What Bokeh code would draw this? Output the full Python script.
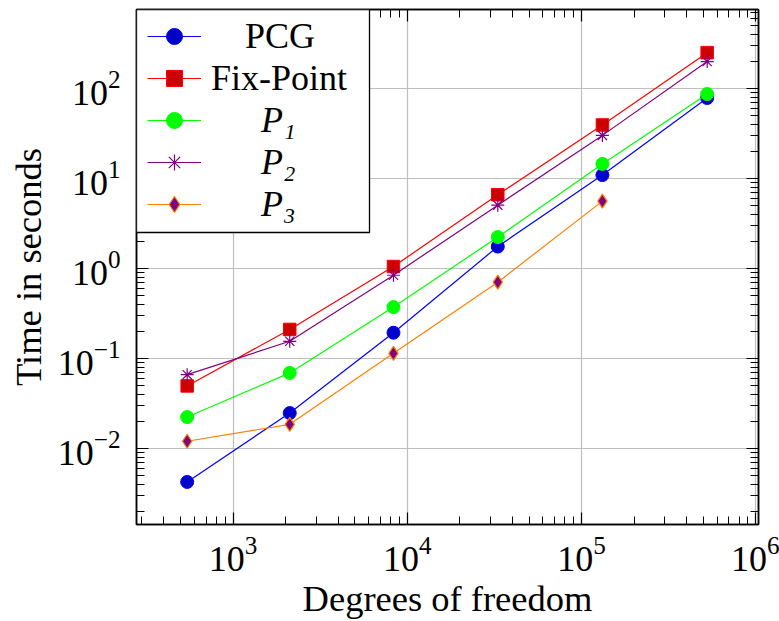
from bokeh.plotting import figure
from bokeh.models import (Range1d, LogAxis, Legend, LegendItem, BoxAnnotation)
from bokeh.embed import file_html
from bokeh.resources import INLINE

# Degrees of freedom of the successive meshes
dofs = [545, 2113, 8321, 33025, 131585, 525313]

# Solver times in seconds
pcg = [0.00424, 0.0247, 0.193, 1.75, 10.9, 78.3]
fix_point = [0.0495, 0.210, 1.05, 6.59, 39.3, 250]
p1 = [0.0223, 0.069, 0.372, 2.23, 14.5, 86.7]
p2 = [0.066, 0.155, 0.84, 5.05, 30.1, 199]
p3 = [0.0120, 0.0185, 0.114, 0.703, 5.6]

labels = ["PCG", "Fix-Point", "P\u2081", "P\u2082", "P\u2083"]

FONT = "Liberation Serif"
W, H = 779, 621
LEFT, RIGHT, TOP, BOTTOM = 136, 21, 9, 95

p = figure(width=W, height=H, x_axis_type="log", y_axis_type="log",
           x_range=Range1d(279, 1.035e6), y_range=Range1d(1.427e-3, 754),
           output_backend="svg", toolbar_location=None,
           min_border_left=LEFT, min_border_right=RIGHT,
           min_border_top=TOP, min_border_bottom=BOTTOM)
p.background_fill_color = "white"
p.border_fill_color = "white"
p.outline_line_color = "black"
p.outline_line_width = 1.5

p.xgrid.grid_line_color = "#bfbfbf"
p.ygrid.grid_line_color = "#bfbfbf"
p.xgrid.grid_line_width = 1.2
p.ygrid.grid_line_width = 1.2


def style_ticks(ax):
    ax.major_tick_in = 12
    ax.major_tick_out = 0
    ax.minor_tick_in = 8
    ax.minor_tick_out = 0
    ax.axis_line_color = "black"
    ax.axis_line_width = 1.5
    ax.major_tick_line_color = "black"
    ax.minor_tick_line_color = "black"
    ax.major_tick_line_width = 1.2
    ax.minor_tick_line_width = 1.0


for ax in (p.xaxis[0], p.yaxis[0]):
    style_ticks(ax)
    ax.major_label_text_font = FONT
    ax.major_label_text_font_size = "36px"
    ax.major_label_text_color = "black"
    ax.axis_label_text_font = FONT
    ax.axis_label_text_font_size = "36.5px"
    ax.axis_label_text_font_style = "normal"
    ax.axis_label_text_color = "black"

p.xaxis.axis_label = "Degrees of freedom"
p.yaxis.axis_label = "Time in seconds"
p.xaxis.major_label_standoff = 12
p.yaxis.major_label_standoff = 16
p.xaxis.axis_label_standoff = 4
p.yaxis.axis_label_standoff = 6

# tick marks on the opposite sides of the box (no labels there)
top_ax = LogAxis(ticker=p.xaxis[0].ticker)
right_ax = LogAxis(ticker=p.yaxis[0].ticker)
for ax in (top_ax, right_ax):
    style_ticks(ax)
    ax.major_label_text_font_size = "1px"
    ax.major_label_text_alpha = 0
    ax.major_label_standoff = 0
p.add_layout(top_ax, "above")
p.add_layout(right_ax, "right")

LW = 1.2
r_pcg = [p.line(dofs, pcg, line_color="#0000ff", line_width=LW),
         p.scatter(dofs, pcg, marker="circle", size=13,
                   fill_color="#0000cc", line_color="#0000ff", line_width=1)]
r_fix = [p.line(dofs, fix_point, line_color="#ff0000", line_width=LW),
         p.scatter(dofs, fix_point, marker="square", size=12.5,
                   fill_color="#cc0000", line_color="#ff0000", line_width=1)]
r_p1 = [p.line(dofs, p1, line_color="#00ff00", line_width=LW),
        p.scatter(dofs, p1, marker="circle", size=13,
                  fill_color="#00ff00", line_color="#00ff00", line_width=1)]
r_p2 = [p.line(dofs, p2, line_color="#800080", line_width=LW),
        p.scatter(dofs, p2, marker="asterisk", size=13,
                  line_color="#800080", line_width=1.2)]
r_p3 = [p.line(dofs[:len(p3)], p3, line_color="#ff8000", line_width=LW),
        p.scatter(dofs[:len(p3)], p3, marker="diamond", size=14,
                  fill_color="#800080", line_color="#ff8000", line_width=1.2)]

# legend frame in the upper-left corner of the plot area
LEG_W, LEG_H = 233, 223
ROW_CENTRE0, ROW_STEP, ROW_H = 38.5, 42, 40
GLYPH_X, GLYPH_W = 11, 54
TEXT_CENTER = 143.5  # label centre, measured from the frame's left edge
frame_h = H - TOP - BOTTOM

box = BoxAnnotation(left=LEFT, right=LEFT + LEG_W, top=TOP, bottom=TOP + LEG_H,
                    left_units="canvas", right_units="canvas",
                    top_units="canvas", bottom_units="canvas",
                    fill_color="white", fill_alpha=1.0,
                    line_color="black", line_width=1.3, line_alpha=1.0)
p.add_layout(box)

# estimated label widths (px) used to centre each entry's text
label_widths = [70, 136, 37, 37, 37]
styles = ["normal", "normal", "italic", "italic", "italic"]
groups = [r_pcg, r_fix, r_p1, r_p2, r_p3]
for i, (lab, rends, wid, sty) in enumerate(zip(labels, groups, label_widths, styles)):
    centre = ROW_CENTRE0 + i * ROW_STEP
    vy = frame_h - (centre - TOP) - ROW_H / 2
    standoff = int(round(TEXT_CENTER - wid / 2 - (GLYPH_X + GLYPH_W)))
    leg = Legend(items=[LegendItem(label=lab, renderers=rends)],
                 location=(GLYPH_X, vy), padding=0, margin=0, spacing=0,
                 border_line_alpha=0, background_fill_alpha=0,
                 glyph_width=GLYPH_W, glyph_height=ROW_H, label_height=ROW_H,
                 label_standoff=standoff,
                 label_text_font=FONT, label_text_font_size="36px",
                 label_text_font_style=sty, label_text_color="black")
    p.add_layout(leg)

open("out.html", "w").write(file_html(p, INLINE))
